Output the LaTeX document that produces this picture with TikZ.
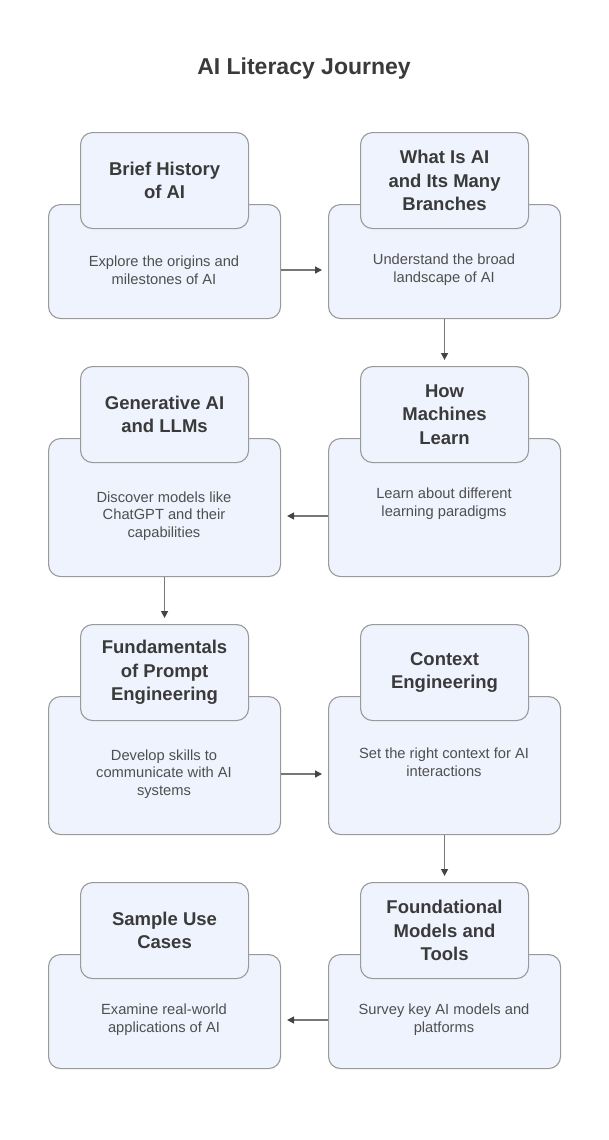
\documentclass[tikz,border=0pt]{standalone}
\usepackage{fontspec}
\setmainfont{Liberation Sans}
\usetikzlibrary{arrows.meta}
\definecolor{boxfill}{HTML}{EEF3FD}
\definecolor{boxline}{HTML}{9A9A9A}
\definecolor{titlecol}{HTML}{3A3A3A}
\definecolor{bodycol}{HTML}{4F4F4F}
\definecolor{arrcol}{HTML}{777777}
\definecolor{headcol}{HTML}{444444}
\begin{document}
\begin{tikzpicture}[x=1pt,y=-1pt,
  bigbox/.style={draw=boxline, fill=boxfill, rounded corners=12pt, line width=1.1pt,
    minimum width=232pt, inner sep=0pt, anchor=north west},
  topbox/.style={draw=boxline, fill=boxfill, rounded corners=12pt, line width=1.1pt,
    minimum width=168pt, minimum height=96pt, inner sep=0pt, anchor=north west,
    align=center, text=titlecol, font=\fontsize{18.5}{23.5}\selectfont\bfseries},
  bodytext/.style={align=center, text=bodycol, inner sep=0pt,
    font=\fontsize{14.7}{17.8}\selectfont},
  arr/.style={draw=arrcol, line width=1.4pt, shorten >=6pt,
    -{Triangle[length=7pt,width=7pt,color=headcol]}}
]
\fill[white] (0,0) rectangle (608,1140);
\useasboundingbox (0,0) rectangle (608,1140);

\node[text=titlecol, font=\fontsize{23}{28}\selectfont\bfseries] (title) at (304,68.5) {AI Literacy Journey};

% Row 1
\node[bigbox, minimum height=114pt] (b1) at (48,204) {};
\node[topbox] (h1) at (80,132) {Brief History\\of AI};
\node[bodytext] (t1) at (164,270) {Explore the origins and\\milestones of AI};
\node[bigbox, minimum height=114pt] (b2) at (328,204) {};
\node[topbox] (h2) at (360,132) {What Is AI\\and Its Many\\Branches};
\node[bodytext] (t2) at (444,270) {Understand the broad\\landscape of AI};

% Row 2
\node[bigbox, minimum height=138pt] (b3) at (48,438) {};
\node[topbox] (h3) at (80,366) {Generative AI\\and LLMs};
\node[bodytext] (t3) at (164,516) {Discover models like\\ChatGPT and their\\capabilities};
\node[bigbox, minimum height=138pt] (b4) at (328,438) {};
\node[topbox] (h4) at (360,366) {How\\Machines\\Learn};
\node[bodytext] (t4) at (444,504) {Learn about different\\learning paradigms};

% Row 3
\node[bigbox, minimum height=138pt] (b5) at (48,696) {};
\node[topbox] (h5) at (80,624) {Fundamentals\\of Prompt\\Engineering};
\node[bodytext] (t5) at (164,774) {Develop skills to\\communicate with AI\\systems};
\node[bigbox, minimum height=138pt] (b6) at (328,696) {};
\node[topbox] (h6) at (360,624) {Context\\Engineering};
\node[bodytext] (t6) at (444,762) {Set the right context for AI\\interactions};

% Row 4
\node[bigbox, minimum height=114pt] (b7) at (48,954) {};
\node[topbox] (h7) at (80,882) {Sample Use\\Cases};
\node[bodytext] (t7) at (164,1020) {Examine real-world\\applications of AI};
\node[bigbox, minimum height=114pt] (b8) at (328,954) {};
\node[topbox] (h8) at (360,882) {Foundational\\Models and\\Tools};
\node[bodytext] (t8) at (444,1020) {Survey key AI models and\\platforms};

% Connectors
\draw[arr] (b1.east |- t1.center) -- (b2.west |- t1.center);
\draw[arr] (b2.south) -- (h4.north);
\draw[arr] (b4.west |- t3.center) -- (b3.east |- t3.center);
\draw[arr] (b3.south) -- (h5.north);
\draw[arr] (b5.east |- t5.center) -- (b6.west |- t5.center);
\draw[arr] (b6.south) -- (h8.north);
\draw[arr] (b8.west |- t8.center) -- (b7.east |- t8.center);
\end{tikzpicture}
\end{document}
